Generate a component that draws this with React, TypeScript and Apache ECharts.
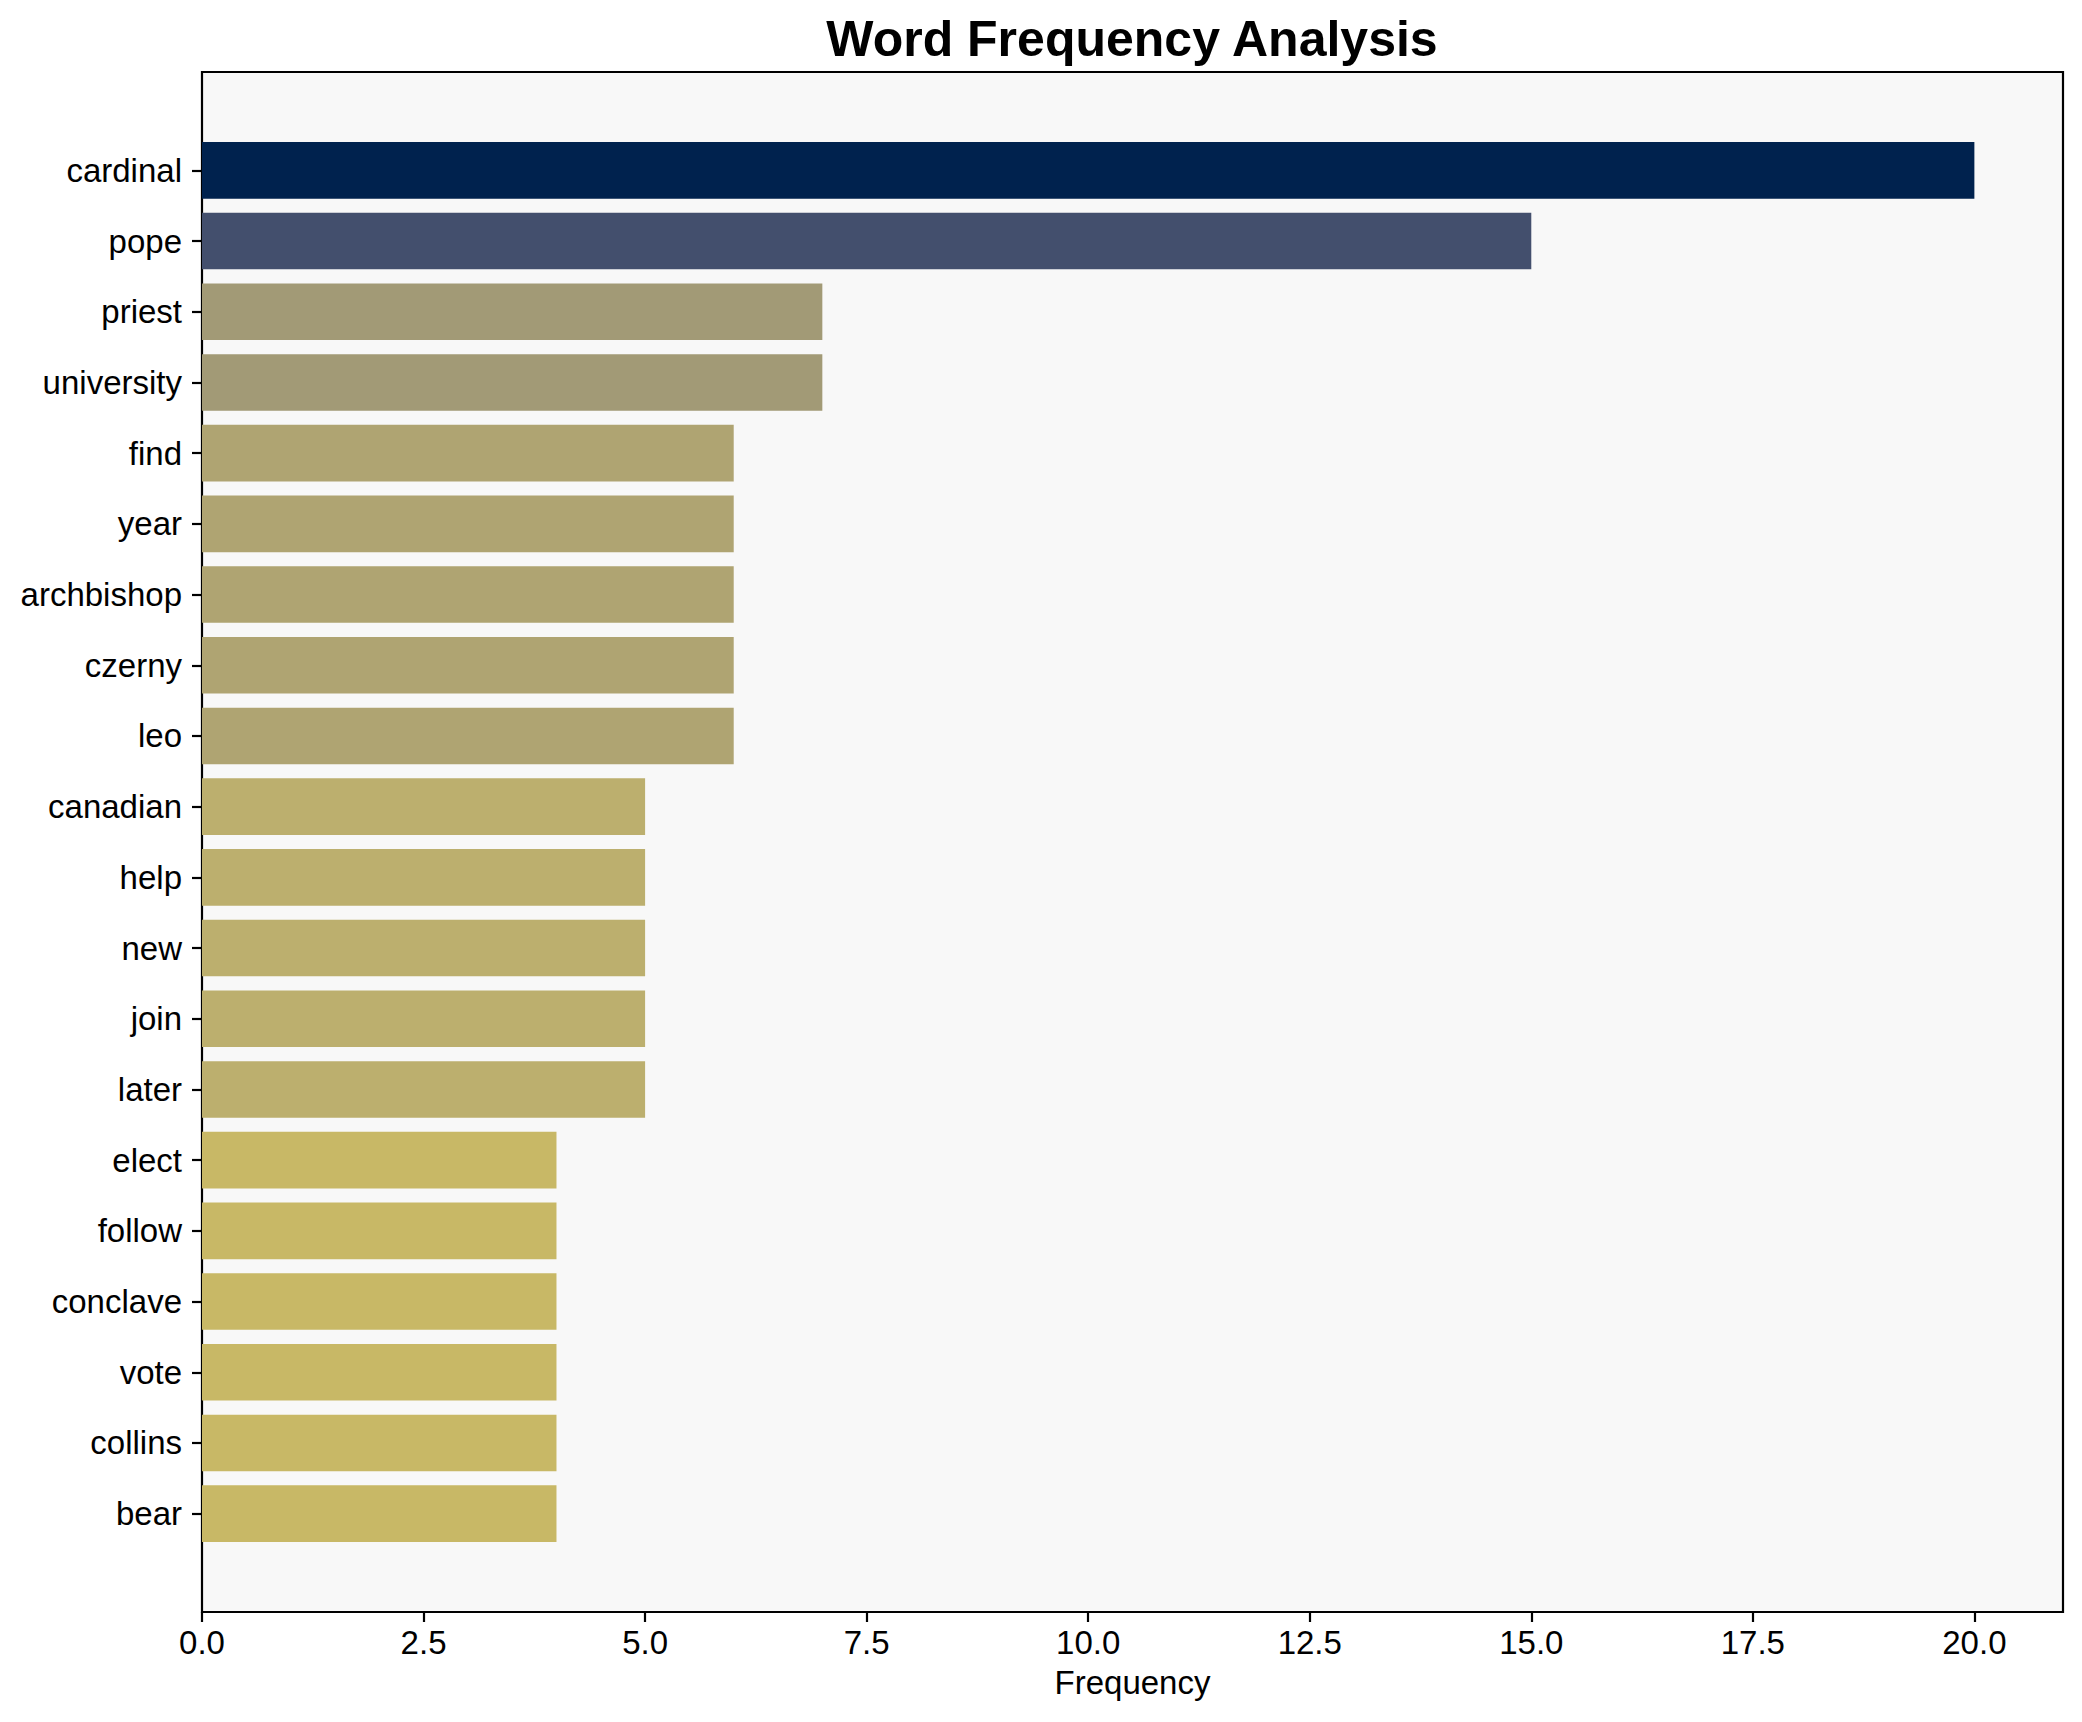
import React, { useEffect, useRef } from "react";
import * as echarts from "echarts";

const words = [
  "cardinal", "pope", "priest", "university", "find", "year", "archbishop",
  "czerny", "leo", "canadian", "help", "new", "join", "later", "elect",
  "follow", "conclave", "vote", "collins", "bear",
];
const frequencies = [20, 15, 7, 7, 6, 6, 6, 6, 6, 5, 5, 5, 5, 5, 4, 4, 4, 4, 4, 4];
const xTicks = [0, 2.5, 5, 7.5, 10, 12.5, 15, 17.5, 20];
const barColors = [
  "#00224e", "#434f6d", "#a29a76", "#a29a76", "#afa472", "#afa472", "#afa472",
  "#afa472", "#afa472", "#bcaf6e", "#bcaf6e", "#bcaf6e", "#bcaf6e", "#bcaf6e",
  "#c8b866", "#c8b866", "#c8b866", "#c8b866", "#c8b866", "#c8b866",
];

const FONT = "'Liberation Sans', Arial, Helvetica, sans-serif";

export default function App() {
  const ref = useRef<HTMLDivElement>(null);
  useEffect(() => {
    if (!ref.current) return;
    const chart = echarts.init(ref.current, null, { renderer: "svg" });
    const frame = { left: 202, top: 72, right: 19, bottom: 110 };
    const dataGrid = { left: 202, top: 135, right: 19, bottom: 173 };
    chart.setOption({
      animation: false,
      backgroundColor: "#ffffff",
      textStyle: { fontFamily: FONT },
      graphic: [
        {
          type: "text",
          x: 1132,
          y: 39,
          style: {
            text: "Word Frequency Analysis",
            font: `bold 50px ${FONT}`,
            fill: "#000",
            textAlign: "center",
            textVerticalAlign: "middle",
          },
        },
      ],
      grid: [
        {
          ...frame,
          show: true,
          backgroundColor: "#f8f8f8",
          borderColor: "#000",
          borderWidth: 2.2,
          containLabel: false,
        },
        { ...dataGrid, containLabel: false },
      ],
      xAxis: [
        {
          type: "value",
          gridIndex: 0,
          min: 0,
          max: 21,
          interval: 2.5,
          splitLine: { show: false },
          axisLine: { show: false },
          axisTick: {
            show: true,
            length: 10,
            lineStyle: { color: "#000", width: 2.2 },
            customValues: xTicks,
          },
          axisLabel: {
            show: true,
            margin: 14,
            fontSize: 33,
            color: "#000",
            fontFamily: FONT,
            customValues: xTicks,
            formatter: (v: number) => v.toFixed(1),
          },
          name: "Frequency",
          nameLocation: "middle",
          nameGap: 54,
          nameTextStyle: { fontSize: 33, color: "#000", fontFamily: FONT, verticalAlign: "top" },
        },
        {
          type: "value",
          gridIndex: 1,
          min: 0,
          max: 21,
          show: false,
          splitLine: { show: false },
        },
      ],
      yAxis: [
        { type: "value", gridIndex: 0, show: false, splitLine: { show: false } },
        {
          type: "category",
          gridIndex: 1,
          data: words,
          inverse: true,
          axisLine: { show: false },
          axisTick: {
            show: true,
            alignWithLabel: true,
            length: 10,
            lineStyle: { color: "#000", width: 2.2 },
          },
          axisLabel: {
            margin: 20,
            fontSize: 33,
            color: "#000",
            fontFamily: FONT,
          },
          splitLine: { show: false },
        },
      ],
      series: [
        {
          type: "bar",
          xAxisIndex: 1,
          yAxisIndex: 1,
          barCategoryGap: "20%",
          data: frequencies.map((v, i) => ({ value: v, itemStyle: { color: barColors[i] } })),
        },
      ],
    });
    return () => chart.dispose();
  }, []);
  return (
    <div
      ref={ref}
      style={{ position: "absolute", left: 0, top: 0, width: 2082, height: 1722 }}
    />
  );
}
